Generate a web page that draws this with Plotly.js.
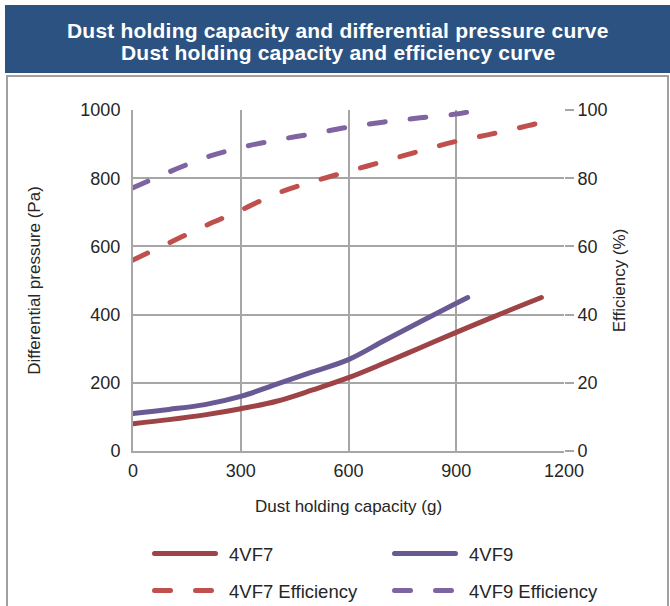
<!DOCTYPE html>
<html>
<head>
<meta charset="utf-8">
<script src="https://cdn.plot.ly/plotly-3.0.1.min.js"></script>
<style>
html,body{margin:0;padding:0;background:#fff;}
#chart{width:670px;height:606px;}
.scatterlayer path.js-line{stroke-linecap:round;}
.legendlines path{stroke-linecap:round;}
.annotation-text{letter-spacing:0.2px;}
</style>
</head>
<body>
<div id="chart"></div>
<script>
// ---- data ----
const titleLines = ["Dust holding capacity and differential pressure curve", "Dust holding capacity and efficiency curve"];
const xTitle = "Dust holding capacity (g)";
const yTitle = "Differential pressure (Pa)";
const y2Title = "Efficiency (%)";
const seriesNames = ["4VF7", "4VF9", "4VF7 Efficiency", "4VF9 Efficiency"];

const vf7X = [0, 100, 200, 300, 400, 500, 600, 700, 800, 900, 1000, 1137];
const vf7Pressure = [80, 92, 106, 124, 146, 179, 215, 258, 303, 348, 392, 450];
const vf9X = [0, 100, 200, 300, 400, 500, 600, 700, 800, 900, 932];
const vf9Pressure = [110, 122, 136, 160, 196, 232, 268, 324, 379, 433, 450];

const vf7EffX = [0, 100, 200, 300, 400, 500, 600, 700, 800, 900, 1000, 1100, 1137];
const vf7Efficiency = [56, 61, 66, 70.6, 75.5, 79, 82, 85, 88, 90.8, 93, 95.4, 96.4];
const vf9EffX = [0, 100, 200, 300, 400, 500, 600, 700, 800, 900, 932];
const vf9Efficiency = [77.2, 81.8, 86, 89, 91.2, 93, 95, 96.5, 97.7, 98.8, 99.4];

const xTicks = [0, 300, 600, 900, 1200];
const yTicks = [0, 200, 400, 600, 800, 1000];
const y2Ticks = [0, 20, 40, 60, 80, 100];

// ---- layout geometry (pixels) ----
const W = 670, H = 606;
const L = 133, R = 564, T = 110, B = 451;
const pw = R - L, ph = B - T;
const px = p => (p - L) / pw;
const py = p => (B - p) / ph;

const FONT = '"Liberation Sans", Arial, sans-serif';
const TXT = '#262626';
const GRID = '#A6A6A6';

const c7 = '#9E4346', c7e = '#C0504D', c9 = '#6A5A94', c9e = '#8064A2';
const DASH = '16px,25px';

const traces = [
  {x: vf7X, y: vf7Pressure, name: seriesNames[0], type: 'scatter', mode: 'lines',
   line: {color: c7, width: 5, shape: 'spline', smoothing: 1}, legend: 'legend'},
  {x: vf9X, y: vf9Pressure, name: seriesNames[1], type: 'scatter', mode: 'lines',
   line: {color: c9, width: 5, shape: 'spline', smoothing: 1}, legend: 'legend2'},
  {x: vf7EffX, y: vf7Efficiency, name: seriesNames[2], type: 'scatter', mode: 'lines', yaxis: 'y2',
   line: {color: c7e, width: 5, shape: 'spline', smoothing: 1, dash: DASH}, legend: 'legend3'},
  {x: vf9EffX, y: vf9Efficiency, name: seriesNames[3], type: 'scatter', mode: 'lines', yaxis: 'y2',
   line: {color: c9e, width: 5, shape: 'spline', smoothing: 1, dash: DASH}, legend: 'legend4'}
];

const legendCommon = {
  orientation: 'v', xanchor: 'left', yanchor: 'middle',
  itemwidth: 72,
  font: {family: FONT, size: 18.5, color: TXT},
  bgcolor: 'rgba(0,0,0,0)', borderwidth: 0
};
const legPos = (x, y) => Object.assign({}, legendCommon, {x: px(x), y: py(y)});

const layout = {
  width: W, height: H,
  margin: {l: L, r: W - R, t: T, b: H - B, pad: 0, autoexpand: false},
  paper_bgcolor: '#fff', plot_bgcolor: '#fff',
  font: {family: FONT, color: TXT},
  showlegend: true,
  xaxis: {
    range: [0, 1200], tickvals: xTicks, ticktext: xTicks.map(String),
    showgrid: true, gridcolor: GRID, gridwidth: 2,
    showline: true, linecolor: GRID, linewidth: 2,
    zeroline: false, ticks: '', ticklabelstandoff: 2,
    tickfont: {family: FONT, size: 18, color: TXT},
    title: {text: xTitle, font: {family: FONT, size: 17, color: TXT}, standoff: 21}
  },
  yaxis: {
    range: [0, 1000], tickvals: yTicks, ticktext: yTicks.map(String),
    showgrid: true, gridcolor: GRID, gridwidth: 2,
    showline: true, linecolor: GRID, linewidth: 2,
    zeroline: false, ticks: '', ticklabelstandoff: 7,
    tickfont: {family: FONT, size: 18, color: TXT},
    title: {text: yTitle, font: {family: FONT, size: 17, color: TXT}, standoff: 35}
  },
  yaxis2: {
    range: [0, 100], overlaying: 'y', side: 'right', anchor: 'x',
    tickvals: y2Ticks, ticktext: y2Ticks.map(String),
    showgrid: false, zeroline: false, showline: false,
    ticks: 'outside', ticklen: 9, tickwidth: 2, tickcolor: GRID,
    tickfont: {family: FONT, size: 18, color: TXT},
    title: {text: y2Title, font: {family: FONT, size: 17, color: TXT}, standoff: 6}
  },
  legend: legPos(147, 554),
  legend2: legPos(387, 554),
  legend3: legPos(147, 591),
  legend4: legPos(387, 591),
  annotations: [
    {text: '<b>' + titleLines[0] + '</b>', xref: 'paper', yref: 'paper',
     x: px(338), y: py(30), xanchor: 'center', yanchor: 'middle', showarrow: false,
     font: {family: FONT, size: 21, color: '#fff'}},
    {text: '<b>' + titleLines[1] + '</b>', xref: 'paper', yref: 'paper',
     x: px(338), y: py(53), xanchor: 'center', yanchor: 'middle', showarrow: false,
     font: {family: FONT, size: 21, color: '#fff'}}
  ],
  shapes: [
    {type: 'rect', xref: 'paper', yref: 'paper', layer: 'below',
     x0: px(5), x1: px(672), y0: py(73), y1: py(5),
     fillcolor: '#2C5282', line: {width: 0}},
    {type: 'path', xref: 'paper', yref: 'paper', layer: 'below',
     path: 'M' + px(7) + ',' + py(612) + ' L' + px(7) + ',' + py(76) +
           ' L' + px(668) + ',' + py(76) + ' L' + px(668) + ',' + py(612),
     line: {color: '#A0A0A0', width: 2}}
  ]
};

Plotly.newPlot('chart', traces, layout, {displayModeBar: false, staticPlot: true}).then(gd => {
  gd.querySelectorAll('.legendlines path').forEach(p => p.setAttribute('d', 'M7.5,0h61'));
});
</script>
</body>
</html>
